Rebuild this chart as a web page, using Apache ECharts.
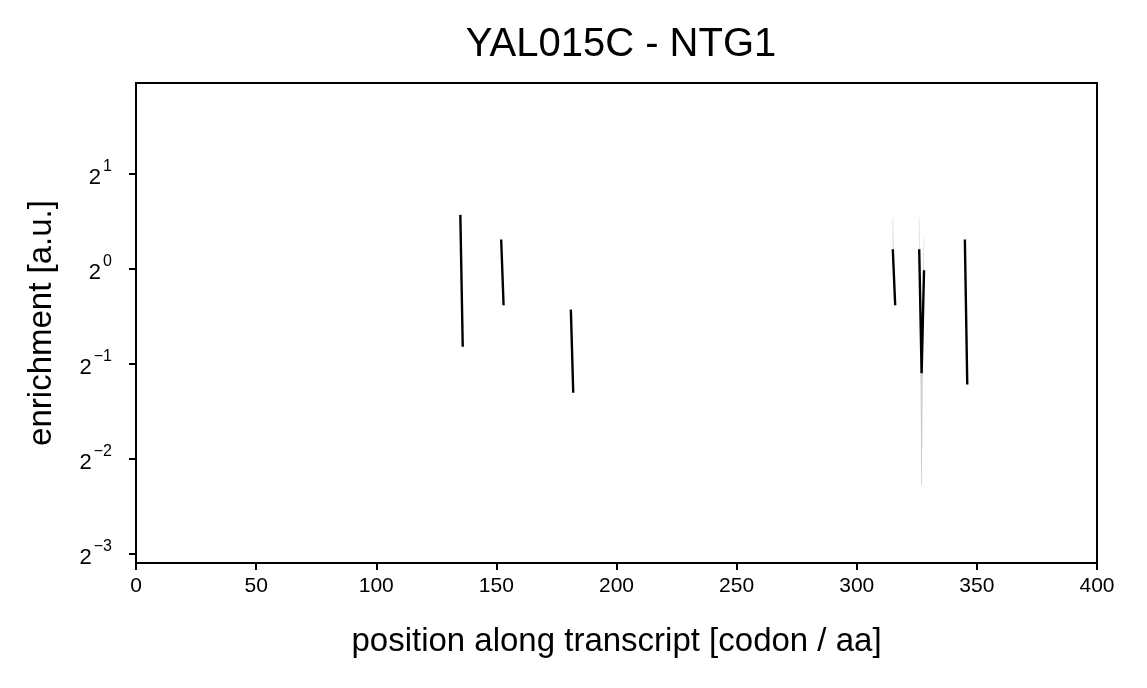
<!DOCTYPE html>
<html>
<head>
<meta charset="utf-8">
<script src="https://cdn.jsdelivr.net/npm/echarts@6/dist/echarts.min.js"></script>
<style>
  html, body { margin: 0; padding: 0; background: #fff; }
  #chart { width: 1147px; height: 688px; }
</style>
</head>
<body>
<div id="chart"></div>
<script>
// codon positions with a value, enrichment (linear), and the faint band around it
var positions  = [135, 136, 152, 153, 181, 182, 315, 316, 326, 327, 328, 345, 346];
var enrichment = [1.48, 0.565, 1.236, 0.765, 0.741, 0.404, 1.151, 0.765, 1.151, 0.466, 0.988, 1.236, 0.429];
var bandLow    = [1.48, 0.565, 1.236, 0.765, 0.741, 0.404, 1.151, 0.765, 1.151, 0.206, 0.988, 1.236, 0.429];
var bandHigh   = [1.48, 0.565, 1.236, 0.765, 0.741, 0.404, 1.454, 0.765, 1.454, 0.466, 1.248, 1.236, 0.429];

var xTicks = [0, 50, 100, 150, 200, 250, 300, 350, 400];
var yExponents = [-3, -2, -1, 0, 1];

var FONT = '"Liberation Sans", Arial, sans-serif';

// line data, broken where codons are not consecutive
var lineData = [];
var bandData = [];
for (var i = 0; i < positions.length; i++) {
    if (i > 0 && positions[i] - positions[i - 1] > 1) {
        lineData.push([positions[i - 1] + 1, '-']);
    }
    lineData.push([positions[i], Math.log2(enrichment[i])]);
    if (i > 0 && positions[i] - positions[i - 1] === 1) {
        bandData.push([
            positions[i - 1], Math.log2(bandLow[i - 1]), Math.log2(bandHigh[i - 1]),
            positions[i], Math.log2(bandLow[i]), Math.log2(bandHigh[i])
        ]);
    }
}

var myChart = echarts.init(document.getElementById('chart'));

var option = {
    animation: false,
    backgroundColor: '#fff',
    title: {
        text: 'YAL015C - NTG1',
        left: 616,
        top: 20,
        textAlign: 'center',
        textStyle: { fontFamily: FONT, fontSize: 40, fontWeight: 'normal', color: '#000' }
    },
    grid: {
        left: 136, right: 50, top: 83, bottom: 125,
        show: true, borderColor: '#000', borderWidth: 2
    },
    xAxis: {
        type: 'value',
        min: 0, max: 400, interval: 50,
        name: 'position along transcript [codon / aa]',
        nameLocation: 'middle',
        nameGap: 62,
        nameTextStyle: { fontFamily: FONT, fontSize: 33, color: '#000' },
        axisLine: { show: true, onZero: false, lineStyle: { color: '#000', width: 2 } },
        axisTick: { show: true, length: 7, lineStyle: { color: '#000', width: 2 } },
        axisLabel: {
            fontFamily: FONT, fontSize: 21, color: '#000', margin: 13,
            customValues: xTicks
        },
        splitLine: { show: false }
    },
    yAxis: {
        type: 'value',
        min: -3.1, max: 1.954,
        name: 'enrichment [a.u.]',
        nameLocation: 'middle',
        nameGap: 78,
        nameTextStyle: { fontFamily: FONT, fontSize: 33, color: '#000' },
        axisLine: { show: true, onZero: false, lineStyle: { color: '#000', width: 2 } },
        axisTick: { show: true, length: 7, lineStyle: { color: '#000', width: 2 }, customValues: yExponents },
        axisLabel: {
            margin: 24,
            customValues: yExponents,
            formatter: function (v) {
                var e = v < 0 ? '\u2212' + (-v) : String(v);
                return '{b|2}{s|' + e + '}';
            },
            rich: {
                b: { fontFamily: FONT, fontSize: 22, color: '#000', lineHeight: 30, verticalAlign: 'bottom' },
                s: { fontFamily: FONT, fontSize: 16, color: '#000', verticalAlign: 'top', padding: [0, 0, 0, 2] }
            }
        },
        splitLine: { show: false }
    },
    series: [
        {
            type: 'custom',
            silent: true,
            z: 1,
            encode: { x: [0, 3], y: [1, 2, 4, 5] },
            data: bandData,
            renderItem: function (params, api) {
                var p0h = api.coord([api.value(0), api.value(2)]);
                var p1h = api.coord([api.value(3), api.value(5)]);
                var p1l = api.coord([api.value(3), api.value(4)]);
                var p0l = api.coord([api.value(0), api.value(1)]);
                return {
                    type: 'polygon',
                    shape: { points: [p0h, p1h, p1l, p0l] },
                    style: { fill: 'rgba(0,0,0,0.13)', stroke: 'rgba(0,0,0,0.08)', lineWidth: 0.6 }
                };
            }
        },
        {
            type: 'line',
            z: 2,
            data: lineData,
            showSymbol: false,
            connectNulls: false,
            lineStyle: { color: '#000', width: 2.4 },
            itemStyle: { color: '#000' }
        }
    ]
};

myChart.setOption(option);
</script>
</body>
</html>
